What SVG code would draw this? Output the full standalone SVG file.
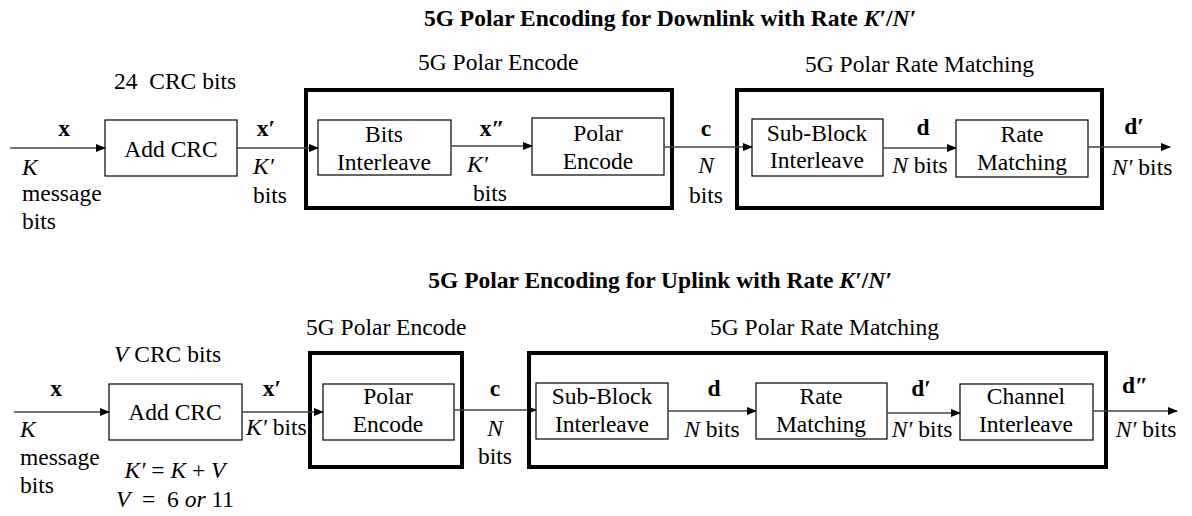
<svg xmlns="http://www.w3.org/2000/svg" width="1192" height="516" viewBox="0 0 1192 516">
<defs>
<marker id="ah" markerUnits="userSpaceOnUse" markerWidth="10" markerHeight="8" refX="9" refY="4" orient="auto">
<path d="M0,0 L10,4 L0,8 Z" fill="#000"/>
</marker>
</defs>
<rect width="1192" height="516" fill="#fff"/>

<g id="dl-addcrc" font-family="Liberation Serif" font-size="23.5" text-anchor="middle">
<rect x="105" y="120" width="132" height="56" fill="#fff" stroke="#000" stroke-width="1.2"/>
<text x="171" y="157">Add CRC</text>
</g>
<g id="dl-encode-group" font-family="Liberation Serif" font-size="23.5">
<rect x="306" y="90" width="366" height="118" fill="none" stroke="#000" stroke-width="4"/>
<text x="418" y="70">5G Polar Encode</text>
</g>
<g id="dl-ratematch-group" font-family="Liberation Serif" font-size="23.5">
<rect x="737" y="90" width="365" height="118" fill="none" stroke="#000" stroke-width="4"/>
<text x="805" y="72">5G Polar Rate Matching</text>
</g>
<g id="dl-bitsinterleave" font-family="Liberation Serif" font-size="23.5" text-anchor="middle">
<rect x="318" y="120" width="133" height="55" fill="#fff" stroke="#000" stroke-width="1.2"/>
<text x="384" y="142">Bits</text>
<text x="384" y="170">Interleave</text>
</g>
<g id="dl-polarencode" font-family="Liberation Serif" font-size="23.5" text-anchor="middle">
<rect x="532" y="118" width="132" height="57" fill="#fff" stroke="#000" stroke-width="1.2"/>
<text x="598" y="141">Polar</text>
<text x="598" y="169">Encode</text>
</g>
<g id="dl-subblock" font-family="Liberation Serif" font-size="23.5" text-anchor="middle">
<rect x="752" y="119" width="131" height="57" fill="#fff" stroke="#000" stroke-width="1.2"/>
<text x="817" y="141">Sub-Block</text>
<text x="817" y="168">Interleave</text>
</g>
<g id="dl-ratematching" font-family="Liberation Serif" font-size="23.5" text-anchor="middle">
<rect x="956" y="120" width="132" height="57" fill="#fff" stroke="#000" stroke-width="1.2"/>
<text x="1022" y="142">Rate</text>
<text x="1022" y="170">Matching</text>
</g>

<g id="ul-encode-group" font-family="Liberation Serif" font-size="23.5">
<rect x="310" y="353" width="152" height="114" fill="none" stroke="#000" stroke-width="4"/>
<text x="306" y="335">5G Polar Encode</text>
</g>
<g id="ul-ratematch-group" font-family="Liberation Serif" font-size="23.5">
<rect x="529" y="353" width="577" height="114" fill="none" stroke="#000" stroke-width="4"/>
<text x="710" y="335">5G Polar Rate Matching</text>
</g>
<g id="ul-addcrc" font-family="Liberation Serif" font-size="23.5" text-anchor="middle">
<rect x="109" y="384" width="133" height="56" fill="#fff" stroke="#000" stroke-width="1.2"/>
<text x="175" y="420">Add CRC</text>
</g>
<g id="ul-polarencode" font-family="Liberation Serif" font-size="23.5" text-anchor="middle">
<rect x="323" y="384" width="131" height="56" fill="#fff" stroke="#000" stroke-width="1.2"/>
<text x="388" y="404">Polar</text>
<text x="388" y="432">Encode</text>
</g>
<g id="ul-subblock" font-family="Liberation Serif" font-size="23.5" text-anchor="middle">
<rect x="536" y="383" width="132" height="56" fill="#fff" stroke="#000" stroke-width="1.2"/>
<text x="602" y="404">Sub-Block</text>
<text x="602" y="432">Interleave</text>
</g>
<g id="ul-ratematching" font-family="Liberation Serif" font-size="23.5" text-anchor="middle">
<rect x="756" y="383" width="131" height="56" fill="#fff" stroke="#000" stroke-width="1.2"/>
<text x="821" y="404">Rate</text>
<text x="821" y="432">Matching</text>
</g>
<g id="ul-channelinterleave" font-family="Liberation Serif" font-size="23.5" text-anchor="middle">
<rect x="960" y="384" width="133" height="56" fill="#fff" stroke="#000" stroke-width="1.2"/>
<text x="1026" y="404">Channel</text>
<text x="1026" y="432">Interleave</text>
</g>

<g id="connectors" fill="none" stroke="#444" stroke-width="1.4" marker-end="url(#ah)">
<line x1="10" y1="148" x2="105" y2="148"/>
<line x1="237" y1="148" x2="318" y2="148"/>
<line x1="451" y1="146" x2="532" y2="146"/>
<line x1="664" y1="147" x2="752" y2="147"/>
<line x1="883" y1="148" x2="956" y2="148"/>
<line x1="1088" y1="147" x2="1170" y2="147"/>
<line x1="14" y1="412" x2="109" y2="412"/>
<line x1="242" y1="412" x2="323" y2="412"/>
<line x1="454" y1="410" x2="536" y2="410"/>
<line x1="668" y1="411" x2="756" y2="411"/>
<line x1="887" y1="413" x2="960" y2="413"/>
<line x1="1093" y1="411" x2="1177" y2="411"/>
</g>

<g id="dl-labels" font-family="Liberation Serif" font-size="23.5">
<text x="22" y="201">message</text>
<text x="22" y="229">bits</text>
<text x="114" y="89" xml:space="preserve">24  CRC bits</text>
<text x="253" y="203">bits</text>
<text x="473" y="201">bits</text>
<text text-anchor="middle" x="706" y="203">bits</text>
<text font-style="italic" x="22" y="175">K</text>
<text font-style="italic" x="253" y="174">K′</text>
<text font-style="italic" x="467" y="172">K′</text>
<text font-style="italic" text-anchor="middle" x="706" y="173">N</text>
<text text-anchor="middle" x="920" y="173"><tspan font-style="italic">N</tspan> bits</text>
<text text-anchor="middle" x="1142" y="175"><tspan font-style="italic">N′</tspan> bits</text>
<text font-weight="bold" text-anchor="middle" x="64" y="136">x</text>
<text font-weight="bold" text-anchor="middle" x="266" y="136">x′</text>
<text font-weight="bold" text-anchor="middle" x="492" y="136">x″</text>
<text font-weight="bold" text-anchor="middle" x="706" y="136">c</text>
<text font-weight="bold" text-anchor="middle" x="923" y="135">d</text>
<text font-weight="bold" text-anchor="middle" x="1134" y="134">d′</text>
</g>

<g id="ul-labels" font-family="Liberation Serif" font-size="23.5">
<text x="20" y="465">message</text>
<text x="20" y="493">bits</text>
<text x="114" y="362"><tspan font-style="italic">V</tspan> CRC bits</text>
<text x="246" y="435"><tspan font-style="italic">K′</tspan> bits</text>
<text text-anchor="middle" x="175" y="478"><tspan font-style="italic">K′</tspan> = <tspan font-style="italic">K</tspan> + <tspan font-style="italic">V</tspan></text>
<text text-anchor="middle" x="175" y="507" xml:space="preserve"><tspan font-style="italic">V</tspan>  =  6 <tspan font-style="italic">or</tspan> 11</text>
<text text-anchor="middle" x="495" y="464">bits</text>
<text text-anchor="middle" x="712" y="437"><tspan font-style="italic">N</tspan> bits</text>
<text text-anchor="middle" x="922" y="437"><tspan font-style="italic">N′</tspan> bits</text>
<text text-anchor="middle" x="1146" y="437"><tspan font-style="italic">N′</tspan> bits</text>
<text font-style="italic" x="20" y="437">K</text>
<text font-style="italic" text-anchor="middle" x="495" y="436">N</text>
<text font-weight="bold" text-anchor="middle" x="56" y="396">x</text>
<text font-weight="bold" text-anchor="middle" x="272" y="396">x′</text>
<text font-weight="bold" text-anchor="middle" x="495" y="396">c</text>
<text font-weight="bold" text-anchor="middle" x="714" y="396">d</text>
<text font-weight="bold" text-anchor="middle" x="921" y="396">d′</text>
<text font-weight="bold" text-anchor="middle" x="1135" y="393">d″</text>
</g>

<g id="titles" font-family="Liberation Serif" font-size="23.5" font-weight="bold" text-anchor="middle">
<text x="670" y="26">5G Polar Encoding for Downlink with Rate <tspan font-style="italic">K′</tspan>/<tspan font-style="italic">N′</tspan></text>
<text x="660" y="288">5G Polar Encoding for Uplink with Rate <tspan font-style="italic">K′</tspan>/<tspan font-style="italic">N′</tspan></text>
</g>
</svg>
